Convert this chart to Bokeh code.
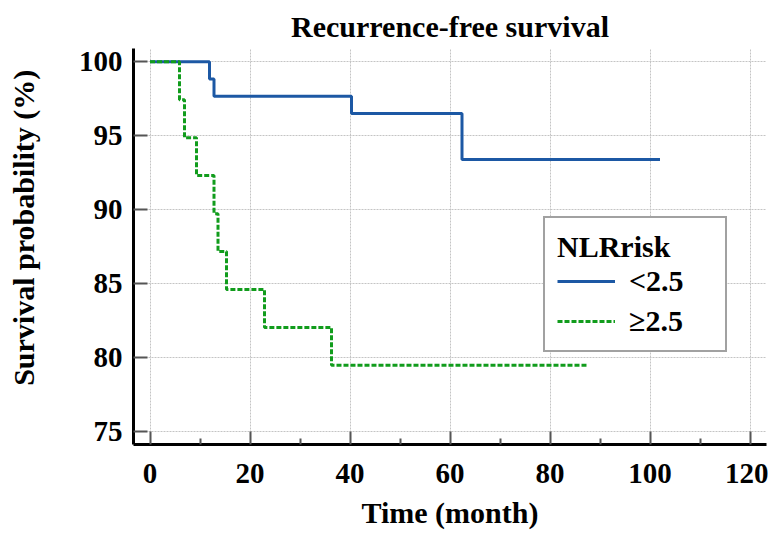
from bokeh.plotting import figure
from bokeh.models import Range1d, Legend, LegendItem, FixedTicker
from bokeh.embed import file_html
from bokeh.resources import INLINE

# Kaplan-Meier steps
low_time = [0, 11.9, 12.8, 40.3, 62.4, 102.0]
low_surv = [100, 98.84, 97.67, 96.5, 93.4, 93.4]
high_time = [0, 5.9, 6.9, 9.3, 12.8, 13.6, 15.3, 22.9, 36.3, 87.6]
high_surv = [100, 97.44, 94.87, 92.31, 89.74, 87.18, 84.62, 82.05, 79.49, 79.49]

x_ticks = [0, 20, 40, 60, 80, 100, 120]
x_minor = [10, 30, 50, 70, 90, 110]
y_ticks = [75, 80, 85, 90, 95, 100]
labels = ["<2.5", "\u22652.5"]

FONT = "Liberation Serif"

p = figure(width=768, height=531, output_backend="svg", toolbar_location=None,
           x_range=Range1d(-3.3, 123.3), y_range=Range1d(74.14, 100.9),
           min_border_left=133, min_border_right=2, min_border_top=48, min_border_bottom=86)

p.title.text = "Recurrence-free survival"
p.title.align = "center"
p.title.text_font = FONT
p.title.text_font_size = "30px"
p.title.text_font_style = "bold"
p.title.text_color = "black"
p.title.standoff = 12

r1 = p.step(low_time, low_surv, mode="after", line_color="#1c58a4", line_width=3)
r2 = p.step(high_time, high_surv, mode="after", line_color="#119c1c", line_width=3, line_dash="5 2")

p.outline_line_color = None

xa = p.xaxis[0]
ya = p.yaxis[0]
xa.ticker = FixedTicker(ticks=x_ticks, minor_ticks=x_minor)
ya.ticker = FixedTicker(ticks=y_ticks, minor_ticks=[])
for ax in (xa, ya):
    ax.axis_line_color = "black"
    ax.axis_line_width = 3
    ax.major_tick_line_color = "#555555"
    ax.major_tick_line_width = 2
    ax.minor_tick_line_color = "#555555"
    ax.minor_tick_line_width = 2
    ax.major_tick_out = 0
    ax.minor_tick_out = 0
    ax.major_label_text_font = FONT
    ax.major_label_text_font_style = "bold"
    ax.major_label_text_font_size = "29px"
    ax.major_label_text_color = "black"
    ax.axis_label_text_font = FONT
    ax.axis_label_text_font_style = "bold"
    ax.axis_label_text_font_size = "30px"
    ax.axis_label_text_color = "black"
xa.major_tick_in = 13
xa.minor_tick_in = 6
ya.major_tick_in = 14
ya.minor_tick_in = 0
xa.axis_label = "Time (month)"
ya.axis_label = "\u00a0\u00a0\u00a0\u00a0\u00a0Survival probability (%)"
xa.major_label_standoff = 19
xa.axis_label_standoff = 10
ya.major_label_standoff = 11
ya.axis_label_standoff = 36

for g in (p.xgrid[0], p.ygrid[0]):
    g.grid_line_color = "#c4c4c4"
    g.grid_line_width = 1
    g.grid_line_dash = "2 1"
p.xgrid[0].ticker = FixedTicker(ticks=x_ticks)
p.ygrid[0].ticker = FixedTicker(ticks=y_ticks)

legend = Legend(items=[LegendItem(label=labels[0], renderers=[r1]),
                       LegendItem(label=labels[1], renderers=[r2])],
                location=(410, 92))
legend.title = "NLRrisk"
legend.title_text_font = FONT
legend.title_text_font_style = "bold"
legend.title_text_font_size = "30px"
legend.title_text_color = "black"
legend.title_standoff = 0
legend.label_text_font = FONT
legend.label_text_font_style = "bold"
legend.label_text_font_size = "30px"
legend.label_text_color = "black"
legend.glyph_width = 58
legend.glyph_height = 34
legend.label_standoff = 14
legend.spacing = 6
legend.padding = 12
legend.border_line_color = "#444444"
legend.border_line_width = 2
legend.background_fill_color = "white"
legend.background_fill_alpha = 1
legend.label_width = 84
p.add_layout(legend)

open("out.html", "w").write(file_html(p, INLINE))
